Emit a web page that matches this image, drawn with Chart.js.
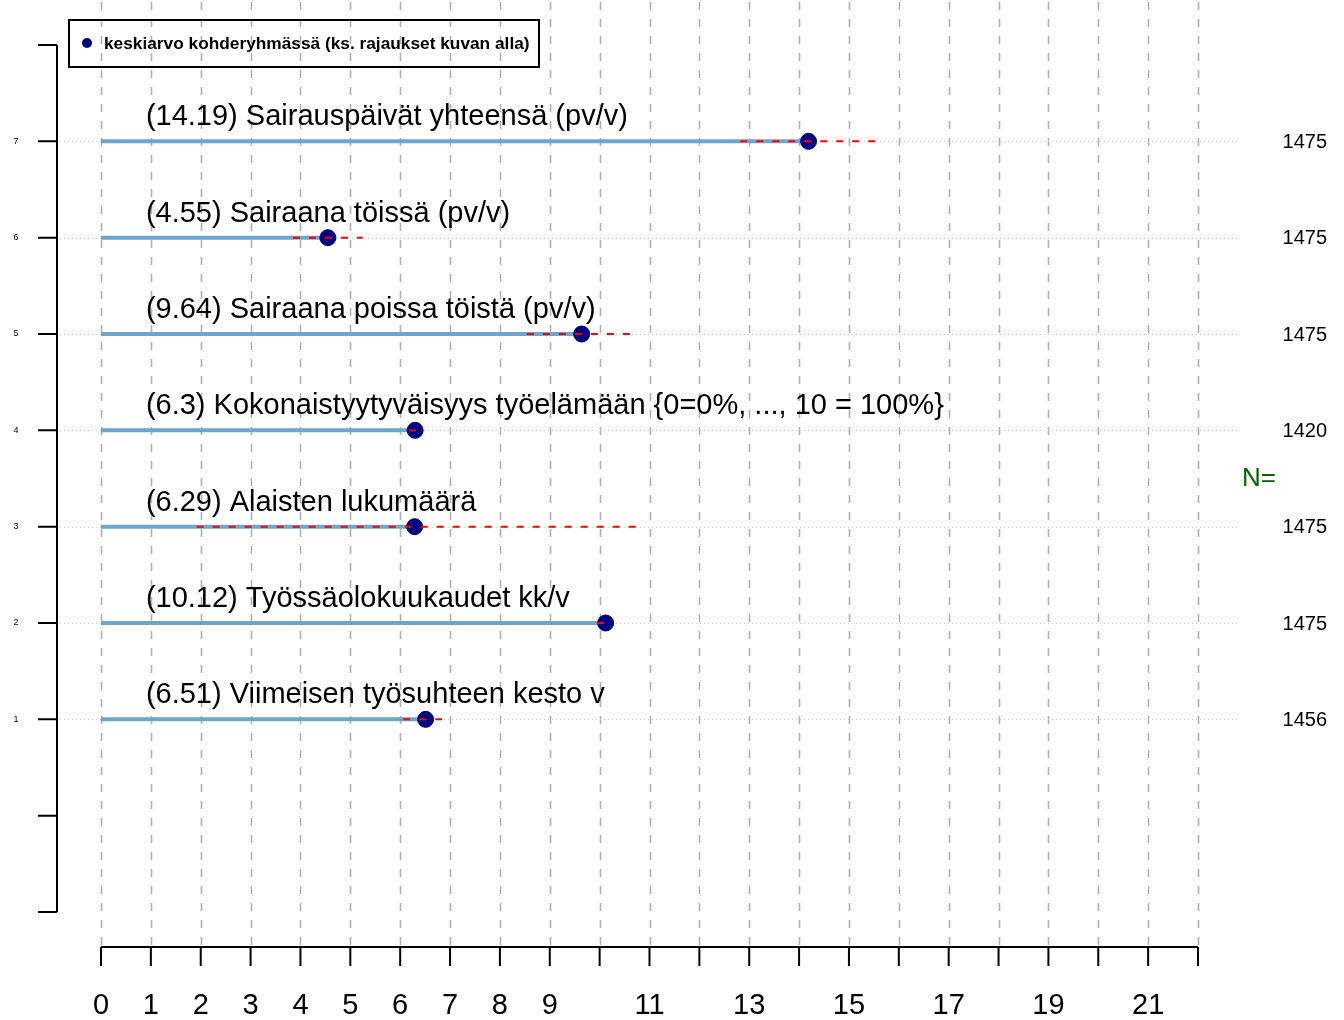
<!DOCTYPE html>
<html>
<head>
<meta charset="utf-8">
<script src="https://cdn.jsdelivr.net/npm/chart.js@4.4.1/dist/chart.umd.min.js"></script>
<style>
  body { margin: 0; background: #fff; }
  canvas { display: block; }
</style>
</head>
<body>
<canvas id="mycanvas" width="1344" height="1020"></canvas>
<script>
// rows from top (y=7) to bottom (y=1)
var names = [
    'Sairauspäivät yhteensä (pv/v)',
    'Sairaana töissä (pv/v)',
    'Sairaana poissa töistä (pv/v)',
    'Kokonaistyytyväisyys työelämään {0=0%, ..., 10 = 100%}',
    'Alaisten lukumäärä',
    'Työssäolokuukaudet kk/v',
    'Viimeisen työsuhteen kesto v'
];
var meanLabels = ['14.19', '4.55', '9.64', '6.3', '6.29', '10.12', '6.51'];
var means = [14.19, 4.55, 9.64, 6.3, 6.29, 10.12, 6.51];
var ciLow = [12.82, 3.85, 8.54, 6.18, 1.92, 9.95, 6.06];
var ciHigh = [15.54, 5.25, 10.65, 6.36, 10.75, 10.28, 6.84];
var nValues = ['1475', '1475', '1475', '1420', '1475', '1475', '1456'];
var rowPos = [7, 6, 5, 4, 3, 2, 1];
var xTickLabels = ['0', '1', '2', '3', '4', '5', '6', '7', '8', '9', '', '11', '', '13', '', '15', '', '17', '', '19', '', '21', ''];
var yTickLabels = ['', '', '1', '2', '3', '4', '5', '6', '7', ''];

var FONT = '"Liberation Sans", Arial, Helvetica, sans-serif';

var datasets = [];
for (var i = 0; i < means.length; i++) {
    datasets.push({
        data: [{x: 0, y: rowPos[i]}, {x: means[i], y: rowPos[i]}],
        showLine: true,
        borderColor: '#6CA6CD',
        borderWidth: 4,
        pointRadius: 0,
        order: 3
    });
}
datasets.push({
    data: means.map(function (m, i) { return {x: m, y: rowPos[i]}; }),
    showLine: false,
    pointRadius: 8,
    pointBackgroundColor: '#000080',
    pointBorderColor: '#000080',
    pointBorderWidth: 1,
    order: 2
});
for (var i = 0; i < means.length; i++) {
    datasets.push({
        data: [{x: ciLow[i], y: rowPos[i]}, {x: ciHigh[i], y: rowPos[i]}],
        showLine: true,
        borderColor: '#ff0000',
        borderWidth: 2,
        borderDash: [7, 9],
        pointRadius: 0,
        order: 1
    });
}

var rDecor = {
    id: 'rDecor',
    beforeDatasetsDraw: function (chart) {
        var ctx = chart.ctx, xs = chart.scales.x, ys = chart.scales.y;
        var axisY = ys.getPixelForValue(-1) + 35;
        ctx.save();
        // vertical dashed grid
        ctx.strokeStyle = '#b0b0b0';
        ctx.lineWidth = 1.6;
        ctx.setLineDash([8, 9]);
        for (var v = 0; v <= 22; v++) {
            var px = Math.round(xs.getPixelForValue(v)) + 0.5;
            ctx.beginPath();
            ctx.moveTo(px, 2);
            ctx.lineTo(px, axisY);
            ctx.stroke();
        }
        // horizontal dotted lines
        ctx.strokeStyle = '#c8c8c8';
        ctx.lineWidth = 1;
        ctx.setLineDash([1, 3]);
        for (var i = 0; i < rowPos.length; i++) {
            var py = Math.round(ys.getPixelForValue(rowPos[i])) + 0.5;
            ctx.beginPath();
            ctx.moveTo(60, py);
            ctx.lineTo(1240, py);
            ctx.stroke();
        }
        ctx.restore();
    },
    afterDatasetsDraw: function (chart) {
        var ctx = chart.ctx, xs = chart.scales.x, ys = chart.scales.y;
        var axisY = ys.getPixelForValue(-1) + 35;
        ctx.save();
        ctx.setLineDash([]);
        ctx.strokeStyle = '#000';
        ctx.lineWidth = 2;
        // x axis
        ctx.beginPath();
        ctx.moveTo(xs.getPixelForValue(0), axisY);
        ctx.lineTo(xs.getPixelForValue(22), axisY);
        for (var v = 0; v <= 22; v++) {
            var px = xs.getPixelForValue(v);
            ctx.moveTo(px, axisY);
            ctx.lineTo(px, axisY + 19);
        }
        ctx.stroke();
        ctx.fillStyle = '#000';
        ctx.font = '29px ' + FONT;
        ctx.textAlign = 'center';
        ctx.textBaseline = 'middle';
        for (var v = 0; v <= 22; v++) {
            if (xTickLabels[v]) ctx.fillText(xTickLabels[v], xs.getPixelForValue(v), 1006);
        }
        // y axis
        var ax = 57;
        ctx.beginPath();
        ctx.moveTo(ax, ys.getPixelForValue(8));
        ctx.lineTo(ax, ys.getPixelForValue(-1));
        for (var t = -1; t <= 8; t++) {
            var py = ys.getPixelForValue(t);
            ctx.moveTo(ax, py);
            ctx.lineTo(ax - 19, py);
        }
        ctx.stroke();
        ctx.font = '9px ' + FONT;
        for (var t = -1; t <= 8; t++) {
            if (yTickLabels[t + 1]) ctx.fillText(yTickLabels[t + 1], 16, ys.getPixelForValue(t));
        }
        // row labels
        ctx.textAlign = 'left';
        ctx.textBaseline = 'alphabetic';
        ctx.font = '29px ' + FONT;
        for (var i = 0; i < names.length; i++) {
            ctx.fillText('(' + meanLabels[i] + ') ' + names[i], xs.getPixelForValue(0.9), ys.getPixelForValue(rowPos[i]) - 16);
        }
        // N values
        ctx.textAlign = 'right';
        ctx.textBaseline = 'middle';
        ctx.font = '20px ' + FONT;
        for (var i = 0; i < nValues.length; i++) {
            ctx.fillText(nValues[i], 1327, ys.getPixelForValue(rowPos[i]) + 1);
        }
        ctx.fillStyle = '#006400';
        ctx.font = '26px ' + FONT;
        ctx.textAlign = 'left';
        ctx.fillText('N=', 1242, ys.getPixelForValue(3.5));
        // legend box
        ctx.strokeStyle = '#000';
        ctx.lineWidth = 2;
        ctx.strokeRect(69, 20, 470, 47);
        ctx.fillStyle = '#000080';
        ctx.beginPath();
        ctx.arc(87, 43, 5, 0, Math.PI * 2);
        ctx.fill();
        ctx.fillStyle = '#000';
        ctx.font = 'bold 17.3px ' + FONT;
        ctx.textAlign = 'left';
        ctx.fillText('keskiarvo kohderyhmässä (ks. rajaukset kuvan alla)', 104, 44);
        ctx.restore();
    }
};

var ctx = document.getElementById('mycanvas');
var chart = new Chart(ctx, {
    type: 'scatter',
    data: { datasets: datasets },
    options: {
        responsive: false,
        animation: false,
        devicePixelRatio: 1,
        layout: { padding: { left: 101, right: 146, top: 45, bottom: 108 } },
        scales: {
            x: { type: 'linear', min: 0, max: 22, display: false },
            y: { type: 'linear', min: -1, max: 8, display: false }
        },
        plugins: {
            legend: { display: false },
            tooltip: { enabled: false }
        },
        elements: { line: { tension: 0 } },
        clip: false
    },
    plugins: [rDecor]
});
</script>
</body>
</html>
